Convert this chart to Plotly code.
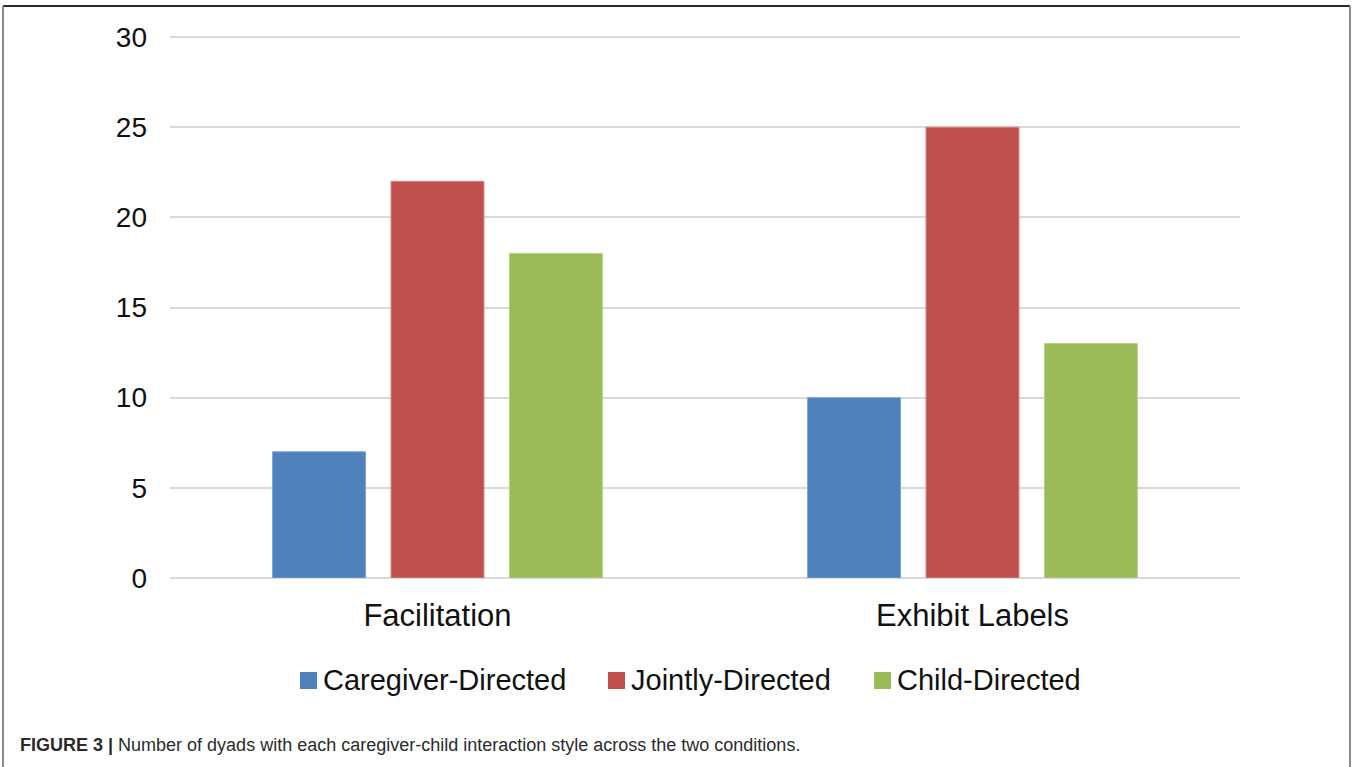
import plotly.graph_objects as go

# Conditions (x categories) and interaction styles (series)
conditions = ["Facilitation", "Exhibit Labels"]
series_names = ["Caregiver-Directed", "Jointly-Directed", "Child-Directed"]
caregiver_directed = [7, 10]
jointly_directed = [22, 25]
child_directed = [18, 13]
y_ticks = [0, 5, 10, 15, 20, 25, 30]

colors = ["#4F81BD", "#C0504D", "#9BBB59"]
outlines = ["#7FA3D6", "#D88684", "#B7D08A"]

W, H = 1352, 767
# plot area: x 170..1240, value 0 at y=578, value 30 at y=37
L, R, B = 170, 112, 189
Y_TOP_PX, Y_ZERO_PX = 37, 578
Y_MAX = 30.0
px_per_unit = (Y_ZERO_PX - Y_TOP_PX) / Y_MAX
T = 32
y_range_top = (Y_ZERO_PX - T) / px_per_unit  # a little headroom so the top gridline shows

fig = go.Figure()
for name, vals, c, oc in zip(series_names,
                             [caregiver_directed, jointly_directed, child_directed],
                             colors, outlines):
    fig.add_trace(go.Bar(
        x=conditions, y=vals, name=name, showlegend=False,
        marker=dict(color=c, line=dict(color=oc, width=1)),
    ))

def px_x(p):
    return (p - L) / (W - L - R)

def px_y(p):
    return (H - B - p) / (H - T - B)

font_family = "Liberation Sans, Arial, sans-serif"

fig.update_layout(
    width=W, height=H,
    margin=dict(l=L, r=R, t=T, b=B, pad=0),
    paper_bgcolor="white", plot_bgcolor="white",
    barmode="group", bargap=0.336, bargroupgap=0.215,
    font=dict(family=font_family, color="#111111"),
    xaxis=dict(
        showgrid=False, showline=False, zeroline=False, ticks="",
        tickfont=dict(size=31, color="#111111"),
        ticklabelstandoff=16,
    ),
    yaxis=dict(
        range=[0, y_range_top], tickvals=y_ticks,
        showgrid=True, gridcolor="#D9D9D9", gridwidth=1.7,
        zeroline=True, zerolinecolor="#D9D9D9", zerolinewidth=1.7,
        showline=False, ticks="",
        tickfont=dict(size=28, color="#111111"),
        ticklabelstandoff=22,
    ),
)

# Legend row: coloured square followed by series name
legend_square_left = [300, 608, 874]
for name, c, x0 in zip(series_names, colors, legend_square_left):
    fig.add_shape(type="rect", xref="paper", yref="paper",
                  x0=px_x(x0), x1=px_x(x0 + 17), y0=px_y(689), y1=px_y(672),
                  fillcolor=c, line=dict(width=0))
    fig.add_annotation(xref="paper", yref="paper", x=px_x(x0 + 21), y=px_y(680),
                       xanchor="left", yanchor="middle", showarrow=False,
                       text=name, font=dict(size=29, color="#111111", family=font_family))

# Figure frame: dark top rule with grey side rules
fig.add_shape(type="line", xref="paper", yref="paper",
              x0=px_x(3), x1=px_x(1350), y0=px_y(6), y1=px_y(6),
              line=dict(color="#2a2a2a", width=2))
fig.add_shape(type="line", xref="paper", yref="paper",
              x0=px_x(3), x1=px_x(3), y0=px_y(6), y1=px_y(767),
              line=dict(color="#8a8a8a", width=2))
fig.add_shape(type="line", xref="paper", yref="paper",
              x0=px_x(1350), x1=px_x(1350), y0=px_y(6), y1=px_y(767),
              line=dict(color="#8a8a8a", width=2))

# Caption
fig.add_annotation(
    xref="paper", yref="paper", x=px_x(18), y=px_y(745),
    xanchor="left", yanchor="middle", showarrow=False,
    text="<b>FIGURE 3 |</b> Number of dyads with each caregiver-child interaction style across the two conditions.",
    font=dict(size=18, color="#2b2b2b", family=font_family),
)

fig.write_html("out.html")
